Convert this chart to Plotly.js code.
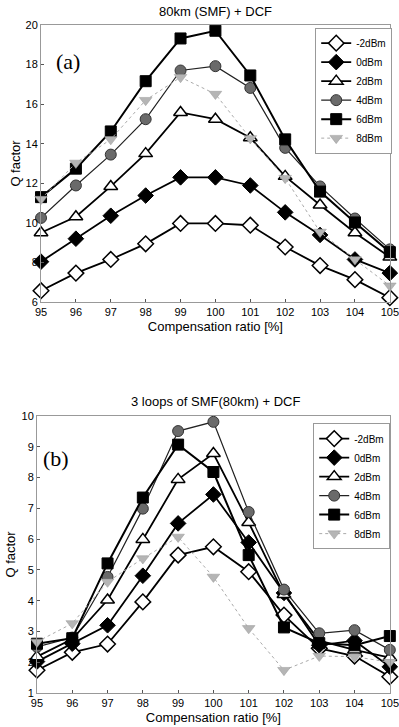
<!DOCTYPE html>
<html><head><meta charset="utf-8">
<script src="https://cdn.plot.ly/plotly-3.0.1.min.js"></script>
<style>html,body{margin:0;padding:0;background:#fff}#c{width:399px;height:727px}</style>
</head><body><div id="c"></div>
<script>
const ratio = [95,96,97,98,99,100,101,102,103,104,105];
const seriesNames = ["-2dBm","0dBm","2dBm","4dBm","6dBm","8dBm"];
// (a) 80km (SMF) + DCF
const a_m2 = [6.57,7.46,8.15,8.94,9.97,9.97,9.88,8.78,7.84,7.13,6.22];
const a_0  = [8.04,9.2,10.36,11.38,12.3,12.3,11.89,10.53,9.39,8.15,7.46];
const a_2  = [9.5,10.31,11.84,13.5,15.58,15.24,14.3,12.35,10.9,9.5,8.27];
const a_4  = [10.25,11.89,13.45,15.24,17.7,17.92,16.82,13.79,11.84,10.22,8.66];
const a_6  = [11.3,12.74,14.62,17.16,19.32,19.71,17.45,14.22,11.58,10.02,8.52];
const a_8  = [11.2,13.03,14.22,16.2,17.36,16.51,14.27,12.26,9.54,8.15,6.82];
// (b) 3 loops of SMF(80km) + DCF
const b_m2 = [1.74,2.32,2.59,3.96,5.48,5.75,4.94,3.53,2.45,2.2,1.53];
const b_0  = [2.02,2.6,3.2,4.81,6.51,7.45,5.89,4.25,2.55,2.7,1.85];
const b_2  = [2.18,2.75,4.02,5.99,7.94,8.78,6.54,4.2,2.7,2.4,2.15];
const b_4  = [2.5,2.8,4.77,6.99,9.51,9.81,6.88,4.36,2.94,3.04,2.4];
const b_6  = [2.6,2.78,5.21,7.35,9.07,8.18,5.48,3.13,2.62,2.55,2.85];
const b_8  = [2.66,3.26,4.61,5.37,6.07,4.77,3.1,1.74,2.2,2.18,2.0];

const styles = [
  {line:{color:'#000',width:1.8}, marker:{symbol:'diamond',size:12,color:'#fff',line:{color:'#000',width:1.5}}},
  {line:{color:'#000',width:1.8}, marker:{symbol:'diamond',size:12,color:'#000',line:{color:'#000',width:1}}},
  {line:{color:'#000',width:1.8}, marker:{symbol:'triangle-up',size:12,color:'#fff',line:{color:'#000',width:1.5}}},
  {line:{color:'#222',width:1.2}, marker:{symbol:'circle',size:11,color:'#6a6a6a',line:{color:'#333',width:1}}},
  {line:{color:'#000',width:2}, marker:{symbol:'square',size:11,color:'#000',line:{color:'#000',width:1}}},
  {line:{color:'#aaa',width:1,dash:'dot'}, marker:{symbol:'triangle-down',size:11,color:'#b5b5b5',line:{color:'#999',width:0.5}}}
];
const aData = [a_m2,a_0,a_2,a_4,a_6,a_8];
const bData = [b_m2,b_0,b_2,b_4,b_6,b_8];
const traces = [];
aData.forEach((d,i)=>traces.push(Object.assign({type:'scatter',mode:'lines+markers',x:ratio,y:d,name:seriesNames[i],xaxis:'x',yaxis:'y',legend:'legend',cliponaxis:false},styles[i])));
bData.forEach((d,i)=>traces.push(Object.assign({type:'scatter',mode:'lines+markers',x:ratio,y:d,name:seriesNames[i],xaxis:'x2',yaxis:'y2',legend:'legend2',cliponaxis:false},styles[i])));

const font = {family:'Liberation Sans, Arial, sans-serif',size:11,color:'#000'};
const axBase = {showgrid:false,zeroline:false,showline:true,linecolor:'#999',linewidth:1,mirror:true,ticks:'inside',ticklen:3,tickcolor:'#555',tickfont:{size:11,color:'#000'},ticklabeloverflow:'allow'};
const layout = {
  width:399,height:727,margin:{l:0,r:0,t:0,b:0},
  paper_bgcolor:'#fff',plot_bgcolor:'#fff',font:font,showlegend:true,
  xaxis:Object.assign({},axBase,{domain:[0.1028,0.977],anchor:'y',range:[95,105],tickvals:ratio,
    title:{text:'Compensation ratio [%]',font:{size:13},standoff:4}}),
  yaxis:Object.assign({},axBase,{domain:[0.5846,0.9656],anchor:'x',range:[6,20],dtick:2,
    title:{text:'Q factor',font:{size:13},standoff:2}}),
  xaxis2:Object.assign({},axBase,{domain:[0.0927,0.977],anchor:'y2',range:[95,105],tickvals:ratio,
    title:{text:'Compensation ratio [%]',font:{size:13},standoff:4}}),
  yaxis2:Object.assign({},axBase,{domain:[0.0468,0.4278],anchor:'x2',range:[1,10],dtick:1,
    title:{text:'Q factor',font:{size:13},standoff:2}}),
  legend:{x:0.79,y:0.962,xanchor:'left',yanchor:'top',bgcolor:'#fff',bordercolor:'#999',borderwidth:1,
    font:{size:10},tracegroupgap:0,itemwidth:30},
  legend2:{x:0.785,y:0.418,xanchor:'left',yanchor:'top',bgcolor:'#fff',bordercolor:'#999',borderwidth:1,
    font:{size:10},tracegroupgap:0,itemwidth:30},
  annotations:[
    {text:'80km (SMF) + DCF',xref:'paper',yref:'paper',x:0.54,y:1-12/727,xanchor:'center',yanchor:'middle',showarrow:false,font:{size:13}},
    {text:'3 loops of SMF(80km) + DCF',xref:'paper',yref:'paper',x:0.54,y:1-401/727,xanchor:'center',yanchor:'middle',showarrow:false,font:{size:13}},
    {text:'(a)',xref:'paper',yref:'paper',x:68/399,y:1-62/727,xanchor:'center',yanchor:'middle',showarrow:false,font:{family:'Liberation Serif, Times New Roman, serif',size:22}},
    {text:'(b)',xref:'paper',yref:'paper',x:56/399,y:1-458/727,xanchor:'center',yanchor:'middle',showarrow:false,font:{family:'Liberation Serif, Times New Roman, serif',size:22}}
  ]
};
Plotly.newPlot('c',traces,layout,{displayModeBar:false,staticPlot:true});
</script></body></html>
